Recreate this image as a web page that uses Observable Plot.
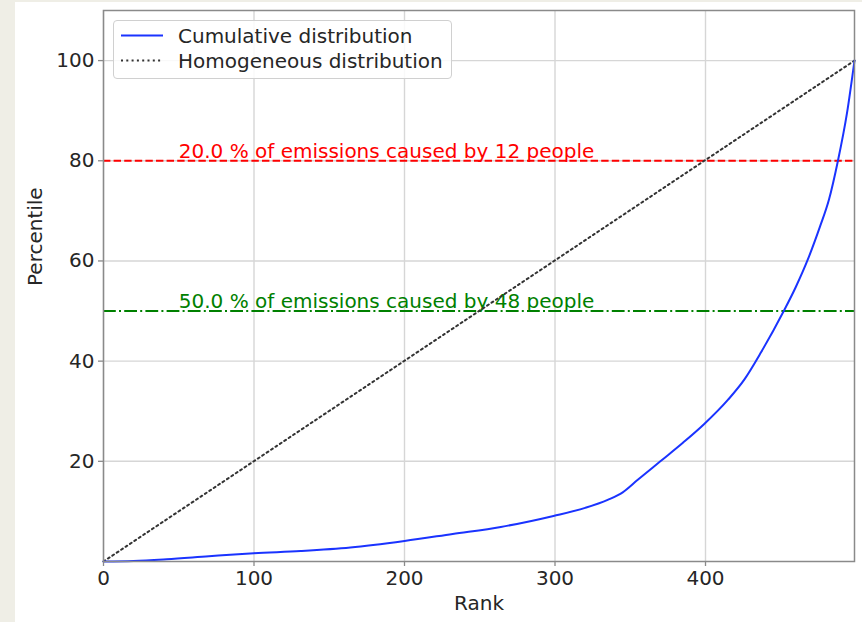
<!DOCTYPE html>
<html>
<head>
<meta charset="utf-8">
<script src="https://cdn.jsdelivr.net/npm/d3@7"></script>
<script src="https://cdn.jsdelivr.net/npm/@observablehq/plot@0.6"></script>
<style>
  html, body { margin: 0; padding: 0; background: #efeee6; }
  #panel { position: absolute; left: 15px; top: 2px; width: 847px; height: 620px; background: #ffffff;
           font-family: "DejaVu Sans", sans-serif; }
  #legend { position: absolute; left: 98px; top: 18px; width: 337px; height: 57px;
            border: 1px solid #d0d0d0; border-radius: 4px; background: rgba(255,255,255,0.85);
            font-size: 20px; color: #262626; }
  .row { position: absolute; left: 7px; height: 25px; display: flex; align-items: center; white-space: nowrap; }
  .row svg { display: block; margin-right: 15px; }
</style>
</head>
<body>
<div id="panel">
  <div id="chart"></div>
  <div id="legend">
    <div class="row" style="top:2px">
      <svg width="42" height="25"><line x1="0" x2="42" y1="12.5" y2="12.5" stroke="#1a33ff" stroke-width="2"/></svg>
      <span>Cumulative distribution</span>
    </div>
    <div class="row" style="top:27px">
      <svg width="42" height="25"><line x1="0" x2="42" y1="12.5" y2="12.5" stroke="#333" stroke-width="2" stroke-dasharray="2,3.3"/></svg>
      <span>Homogeneous distribution</span>
    </div>
  </div>
</div>
<script>
// Cumulative share of emissions (percentile) against rank of person
const ranks = [0, 20, 42, 70, 100, 131, 164, 200, 232, 264, 299, 320, 335, 345, 355, 370, 385, 399, 415, 426, 437, 452, 460, 468, 476, 482, 488, 494, 499];
const percentiles = [0, 0.1, 0.45, 1.05, 1.65, 2.1, 2.8, 4.1, 5.5, 6.9, 9.1, 10.7, 12.3, 13.8, 16.3, 20.0, 23.7, 27.4, 32.3, 36.4, 41.8, 50, 54.8, 60.3, 66.8, 72.2, 80, 89.5, 100];

// Equal-share reference line
const homogeneousRanks = [0, 499];
const homogeneousPercentiles = [0, 100];

// Threshold annotations
const thresholdLevels = [80, 50];
const thresholdLabels = ["20.0 % of emissions caused by 12 people", "50.0 % of emissions caused by 48 people"];
const labelRank = 50;

const xTicks = [0, 100, 200, 300, 400];
const yTicks = [20, 40, 60, 80, 100];

const cumulative = ranks.map((r, i) => ({rank: r, pct: percentiles[i]}));
const homogeneous = homogeneousRanks.map((r, i) => ({rank: r, pct: homogeneousPercentiles[i]}));
const annotations = thresholdLevels.map((p, i) => ({rank: labelRank, pct: p, label: thresholdLabels[i]}));

const gridStyle = {stroke: "#d6d6d6", strokeOpacity: 1, strokeWidth: 1.4};
const axisStyle = {tickSize: 5, tickPadding: 4, stroke: "#8a8a8a", strokeWidth: 1.3, fill: "#262626", label: null};

const chart = Plot.plot({
  width: 847,
  height: 620,
  marginLeft: 88,
  marginRight: 8,
  marginTop: 8,
  marginBottom: 61,
  x: {domain: [0, 499]},
  y: {domain: [0, 110]},
  style: {fontFamily: "DejaVu Sans", fontSize: "20px", color: "#262626", background: "transparent"},
  marks: [
    Plot.gridX(xTicks, gridStyle),
    Plot.gridY(yTicks, gridStyle),
    Plot.ruleY([thresholdLevels[0]], {stroke: "#ff0000", strokeWidth: 2, strokeDasharray: "7.4,3.2"}),
    Plot.ruleY([thresholdLevels[1]], {stroke: "#008000", strokeWidth: 2, strokeDasharray: "12.8,3.2,2,3.2"}),
    Plot.text([annotations[0]], {x: "rank", y: "pct", text: "label", fill: "#ff0000", textAnchor: "start", lineAnchor: "bottom", dy: -3}),
    Plot.text([annotations[1]], {x: "rank", y: "pct", text: "label", fill: "#008000", textAnchor: "start", lineAnchor: "bottom", dy: -3}),
    Plot.line(homogeneous, {x: "rank", y: "pct", stroke: "#333333", strokeWidth: 2, strokeDasharray: "2,3.3"}),
    Plot.line(cumulative, {x: "rank", y: "pct", stroke: "#1a33ff", strokeWidth: 2, curve: "monotone-x"}),
    Plot.axisX(xTicks, axisStyle),
    Plot.axisY(yTicks, axisStyle),
    Plot.text(["Rank"], {frameAnchor: "bottom", dy: 48, fill: "#262626"}),
    Plot.text(["Percentile"], {frameAnchor: "left", rotate: -90, dx: -68, fill: "#262626"}),
    Plot.frame({stroke: "#8a8a8a", strokeWidth: 1.5})
  ]
});
document.getElementById("chart").appendChild(chart);
</script>
</body>
</html>
